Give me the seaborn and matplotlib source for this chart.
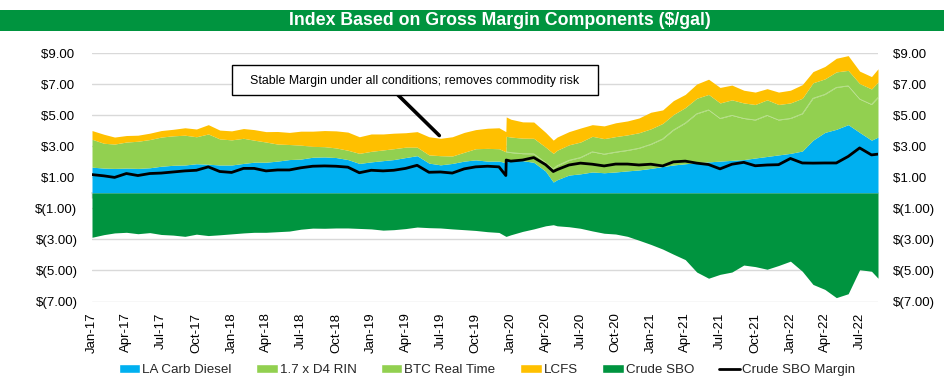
import matplotlib
matplotlib.use("Agg")
import matplotlib.pyplot as plt
import matplotlib.dates as mdates
from matplotlib.patches import Rectangle, Patch
from matplotlib.lines import Line2D
from matplotlib.ticker import FuncFormatter
import numpy as np
import pandas as pd
import seaborn as sns

# ---------------- data ($/gal) ----------------
dates = [
    "2017-01-01", "2017-02-01", "2017-03-01", "2017-04-01", "2017-05-01", "2017-06-01",
    "2017-07-01", "2017-08-01", "2017-09-01", "2017-10-01", "2017-11-01", "2017-12-01",
    "2018-01-01", "2018-02-01", "2018-03-01", "2018-04-01", "2018-05-01", "2018-06-01",
    "2018-07-01", "2018-08-01", "2018-09-01", "2018-10-01", "2018-11-01", "2018-12-01",
    "2019-01-01", "2019-02-01", "2019-03-01", "2019-04-01", "2019-05-01", "2019-06-01",
    "2019-07-01", "2019-08-01", "2019-09-01", "2019-10-01", "2019-11-01", "2019-12-01",
    "2019-12-19", "2019-12-20",
    "2020-01-01", "2020-02-01", "2020-03-01", "2020-04-01", "2020-04-21", "2020-05-01",
    "2020-06-01", "2020-07-01", "2020-08-01", "2020-09-01", "2020-10-01", "2020-11-01",
    "2020-12-01",
    "2021-01-01", "2021-02-01", "2021-03-01", "2021-04-01", "2021-05-01", "2021-06-01",
    "2021-07-01", "2021-08-01", "2021-09-01", "2021-10-01", "2021-11-01", "2021-12-01",
    "2022-01-01", "2022-02-01", "2022-03-01", "2022-04-01", "2022-05-01", "2022-06-01",
    "2022-07-01", "2022-08-01", "2022-08-18",
]

la_carb_diesel = [
    1.66, 1.60, 1.58, 1.60, 1.58, 1.62, 1.72, 1.78, 1.80, 1.88, 1.85, 1.80,
    1.80, 1.90, 1.98, 1.98, 2.05, 2.15, 2.18, 2.30, 2.32, 2.28, 2.15, 1.90,
    2.00, 2.08, 2.15, 2.28, 2.40, 1.92, 1.81, 1.90, 2.05, 2.13, 2.05, 2.05,
    1.95, 2.05,
    2.10, 2.08, 1.97, 1.40, 0.70, 0.85, 1.15, 1.23, 1.35, 1.30, 1.35, 1.42, 1.48,
    1.58, 1.70, 1.80, 1.88, 1.95, 2.00, 2.05, 2.10, 2.15, 2.25, 2.35, 2.45,
    2.55, 2.70, 3.40, 3.90, 4.10, 4.40, 3.90, 3.40, 3.60,
]

d4_rin_x17 = [
    1.80, 1.60, 1.57, 1.68, 1.75, 1.82, 1.88, 1.90, 1.92, 1.74, 1.95, 1.68,
    1.62, 1.62, 1.42, 1.30, 1.10, 0.97, 0.90, 0.70, 0.66, 0.62, 0.60, 0.65,
    0.68, 0.69, 0.70, 0.67, 0.55, 0.53, 0.59, 0.48, 0.57, 0.72, 0.82, 0.80,
    0.70, 0.60,
    0.50, 0.45, 0.55, 0.55, 0.85, 0.90, 0.95, 1.05, 1.30, 1.20, 1.28, 1.32, 1.40,
    1.55, 1.78, 2.25, 2.62, 3.15, 3.35, 2.75, 2.90, 2.65, 2.45, 2.65, 2.25,
    2.25, 2.40, 2.70, 2.45, 2.70, 2.50, 2.15, 2.30, 2.55,
]

btc_real_time = [
    0, 0, 0, 0, 0, 0, 0, 0, 0, 0, 0, 0,
    0, 0, 0, 0, 0, 0, 0, 0, 0, 0, 0, 0,
    0, 0, 0, 0, 0, 0, 0, 0, 0, 0, 0, 0,
    0, 1.0,
    1.0, 1.0, 1.0, 1.0, 1.0, 1.0, 1.0, 1.0, 1.0, 1.0, 1.0, 1.0, 1.0,
    1.0, 1.0, 1.0, 1.0, 1.0, 1.0, 1.0, 1.0, 1.0, 1.0, 1.0, 1.0,
    1.0, 1.0, 1.0, 1.0, 1.0, 1.0, 1.0, 1.0, 1.0,
]

lcfs = [
    0.56, 0.58, 0.45, 0.42, 0.39, 0.41, 0.42, 0.42, 0.48, 0.50, 0.60, 0.57,
    0.58, 0.63, 0.68, 0.67, 0.81, 0.78, 0.90, 0.98, 1.04, 1.10, 1.17, 1.07,
    1.12, 1.03, 1.00, 0.93, 1.00, 1.17, 1.12, 1.24, 1.28, 1.23, 1.30, 1.35,
    1.30, 1.25,
    1.15, 1.05, 1.05, 0.95, 0.85, 0.85, 0.85, 0.90, 0.75, 0.82, 0.89, 0.90, 0.95,
    1.07, 0.87, 0.90, 0.85, 0.92, 0.98, 1.00, 0.95, 0.82, 0.80, 0.72, 0.80,
    0.82, 0.88, 0.72, 0.80, 0.88, 0.95, 0.80, 0.80, 0.85,
]

crude_sbo = [
    -2.86, -2.69, -2.58, -2.54, -2.63, -2.56, -2.68, -2.72, -2.80, -2.66, -2.75, -2.70,
    -2.64, -2.58, -2.54, -2.54, -2.50, -2.46, -2.34, -2.27, -2.28, -2.26, -2.26, -2.29,
    -2.32, -2.40, -2.37, -2.30, -2.20, -2.24, -2.26, -2.32, -2.37, -2.42, -2.50, -2.55,
    -2.80, -2.80,
    -2.70, -2.48, -2.32, -2.12, -2.05, -2.12, -2.18, -2.28, -2.45, -2.60, -2.65, -2.80, -3.05,
    -3.32, -3.62, -3.95, -4.30, -5.10, -5.50, -5.25, -5.10, -4.65, -4.75, -4.92, -4.68,
    -4.40, -5.05, -5.90, -6.22, -6.75, -6.50, -4.95, -5.05, -5.50,
]

crude_sbo_margin = [
    1.18, 1.10, 1.00, 1.25, 1.12, 1.25, 1.28, 1.35, 1.42, 1.46, 1.68, 1.38,
    1.32, 1.58, 1.58, 1.42, 1.48, 1.48, 1.62, 1.72, 1.74, 1.72, 1.66, 1.30,
    1.46, 1.42, 1.46, 1.58, 1.78, 1.33, 1.35, 1.28, 1.55, 1.68, 1.72, 1.68,
    1.12, 2.12,
    2.05, 2.12, 2.28, 1.82, 1.38, 1.50, 1.80, 1.92, 1.85, 1.74, 1.86, 1.86, 1.80,
    1.85, 1.74, 2.00, 2.05, 1.92, 1.83, 1.55, 1.85, 1.97, 1.75, 1.80, 1.82,
    2.22, 1.93, 1.92, 1.93, 1.93, 2.35, 2.90, 2.45, 2.50,
]

series_labels = ["LA Carb Diesel", "1.7 x D4 RIN", "BTC Real Time", "LCFS",
                 "Crude SBO", "Crude SBO Margin"]
title_text = "Index Based on Gross Margin Components ($/gal)"
note_text = "Stable Margin under all conditions; removes commodity risk"
y_ticks = [-7, -5, -3, -1, 1, 3, 5, 7, 9]

# ---------------- styling ----------------
C_BLUE = "#00B0F0"
C_LGREEN = "#92D050"
C_YELLOW = "#FFC000"
C_DGREEN = "#00943F"

sns.set_theme(style="white")
plt.rcParams["font.family"] = ["Liberation Sans", "DejaVu Sans"]

df = pd.DataFrame({
    "date": pd.to_datetime(dates),
    "blue": la_carb_diesel, "rin": d4_rin_x17, "btc": btc_real_time,
    "lcfs": lcfs, "sbo": crude_sbo, "margin": crude_sbo_margin,
})

W, H = 944, 385
fig = plt.figure(figsize=(W / 100, H / 100), dpi=100)
ax = fig.add_axes([92 / W, 1 - 301.5 / H, 786 / W, (301.5 - 53.3) / H])

# stacked positive components
polys = ax.stackplot(df["date"], df["blue"], df["rin"], df["btc"], df["lcfs"],
                     colors=[C_BLUE, C_LGREEN, C_LGREEN, C_YELLOW],
                     linewidth=0, zorder=2)
# negative component
ax.fill_between(df["date"], df["sbo"], 0, color=C_DGREEN, linewidth=0, zorder=2)

# faint boundary between RIN and BTC layers where BTC exists
rin_top = (df["blue"] + df["rin"]).where(df["btc"] > 0)
ax.plot(df["date"], rin_top, color="#BDE194", lw=0.6, zorder=3)

# margin line via seaborn
sns.lineplot(x=df["date"], y=df["margin"], ax=ax, color="black", lw=2.0, zorder=5)

xmin, xmax = df["date"].iloc[0], df["date"].iloc[-1]
ax.set_xlim(xmin, xmax)
ymin, ymax = -7, 9
ax.set_ylim(ymin, ymax)
ax.set_xlabel("")
ax.set_ylabel("")

# y axis: both sides
ax.set_yticks(y_ticks)
fmt = FuncFormatter(lambda v, p: f"${v:.2f} " if v >= 0 else f"$({abs(v):.2f})")
ax.yaxis.set_major_formatter(fmt)
ax.tick_params(axis="y", which="both", length=0, labelsize=9.5, labelcolor="black",
               left=False, right=False, labelleft=True, labelright=True, pad=10.5)

ax.yaxis.grid(True, color="#D9D9D9", lw=1.0)
ax.xaxis.grid(False)
ax.set_axisbelow(True)
for s in ax.spines.values():
    s.set_visible(False)

# x axis labels at bottom
loc = mdates.MonthLocator(bymonth=[1, 4, 7, 10])
ax.xaxis.set_major_locator(loc)
ax.xaxis.set_major_formatter(mdates.DateFormatter("%b-%y"))
ax.tick_params(axis="x", length=0, labelsize=9.5, labelcolor="black", pad=8,
               labelrotation=90)

# zero line with tick marks (secondary axis placed at y = 0)
zero_frac = (0 - ymin) / (ymax - ymin)
sec = ax.secondary_xaxis(zero_frac)
sec.xaxis.set_major_locator(mdates.MonthLocator(bymonth=[1, 4, 7, 10]))
sec.tick_params(axis="x", direction="out", length=3.5, width=1.0, color="#BFBFBF",
                labelbottom=False, labeltop=False)
sec.spines["bottom"].set_color("#D9D9D9")
sec.spines["bottom"].set_linewidth(1.2)
for k in ["top", "left", "right"]:
    sec.spines[k].set_visible(False)

# annotation
box_x0, box_x1, box_y0, box_y1 = 232, 598, 65, 95
ax.annotate("", xy=(pd.Timestamp("2019-06-28"), 3.70), xycoords="data",
            xytext=(398 / W, 1 - box_y1 / H), textcoords="figure fraction",
            arrowprops=dict(arrowstyle="-", color="black", lw=2.6,
                            shrinkA=0, shrinkB=0), zorder=6)
fig.add_artist(Rectangle((box_x0 / W, 1 - box_y1 / H), (box_x1 - box_x0) / W,
                         (box_y1 - box_y0) / H, transform=fig.transFigure,
                         facecolor="white", edgecolor="black", lw=1.0, zorder=10))
fig.text((box_x0 + box_x1) / 2 / W, 1 - 81 / H, note_text, ha="center", va="center",
         fontsize=8.9, color="black", zorder=11)

# title banner
fig.add_artist(Rectangle((0, 1 - 31 / H), 1, 21 / H, transform=fig.transFigure,
                         facecolor="#00943F", edgecolor="none", zorder=10))
fig.text(500 / W, 1 - 20.5 / H, title_text, ha="center", va="center",
         fontsize=12.8, fontweight="bold", color="white", zorder=11)

# legend
handles = [Patch(facecolor=C_BLUE), Patch(facecolor=C_LGREEN), Patch(facecolor=C_LGREEN),
           Patch(facecolor=C_YELLOW), Patch(facecolor=C_DGREEN),
           Line2D([0], [0], color="black", lw=2.0)]
fig.legend(handles, series_labels, loc="center", bbox_to_anchor=(487 / W, 1 - 370 / H),
           ncol=6, frameon=False, fontsize=9.6, handlelength=1.6, handletextpad=0.15,
           columnspacing=1.85, borderaxespad=0)

fig.savefig("out.png", dpi=100)
